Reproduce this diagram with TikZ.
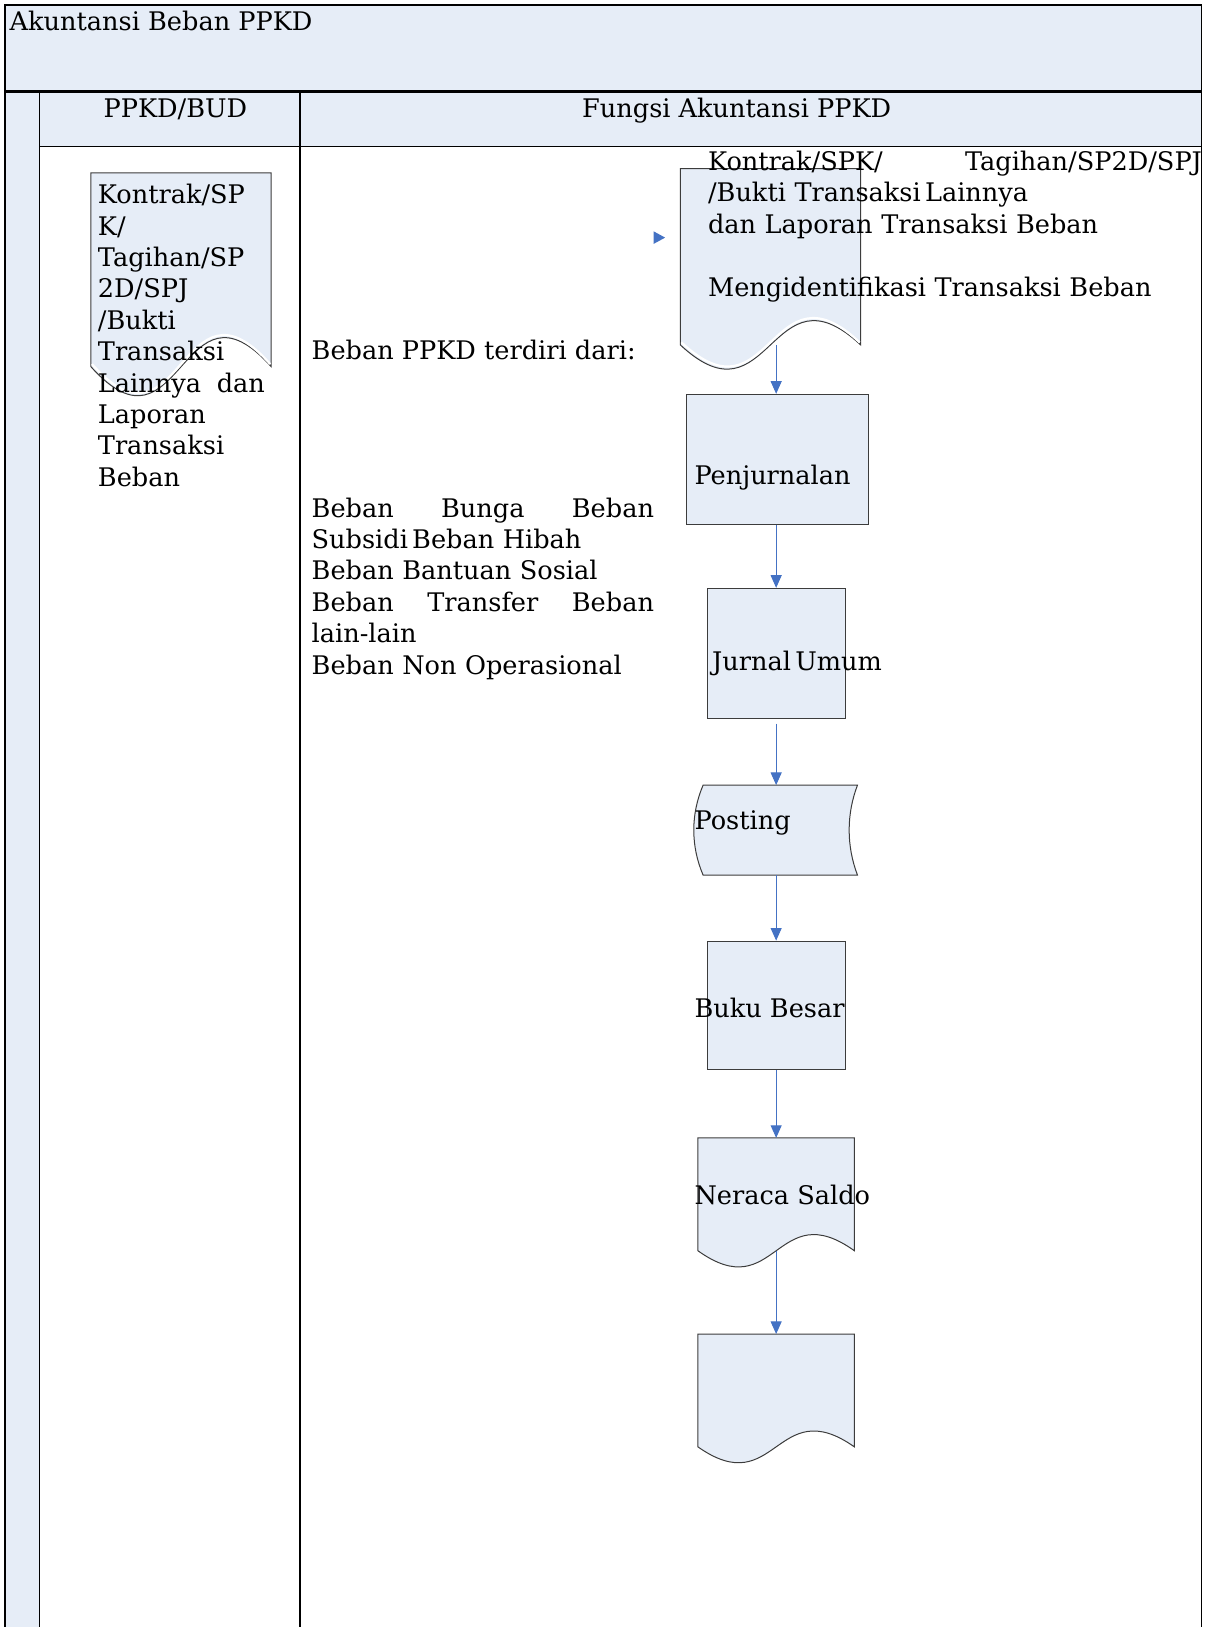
\documentclass[tikz,border=0pt]{standalone}
\usepackage{fontspec}
\setmainfont{DejaVu Serif}
\usetikzlibrary{arrows.meta, calc, positioning}

\definecolor{laneblue}{RGB}{230,237,247}
\definecolor{flowblue}{RGB}{68,114,196}
\definecolor{shapeline}{RGB}{60,60,60}
\newcommand{\flowfont}{\fontsize{12.8pt}{15.7pt}\selectfont}
\newcommand{\pxu}{0.5189pt}

\tikzset{
    lane/.style={draw=black, line width=0.75pt},
    doctext/.style={anchor=north west, inner sep=0pt, align=left, font=\flowfont,
        execute at begin node=\strut},
    headtext/.style={anchor=base, inner sep=0pt, font=\flowfont},
    shapesize/.style 2 args={minimum width=#1*\pxu, minimum height=#2*\pxu},
    procbox/.style={draw=shapeline, fill=laneblue, line width=0.5pt, inner sep=0pt},
    docbox/.style={inner sep=0pt},
    docline/.style={draw=shapeline, fill=laneblue, line width=0.5pt},
    flow/.style={draw=flowblue, line width=0.5pt, -{Triangle[length=6.3pt, width=5.5pt]}}
}

% document symbol with a wavy lower edge
\newcommand{\docshape}[2]{%
    \draw[docline] (#1.north west) -- (#1.north east) -- (#1.south east)
        .. controls ($(#1.south)+(0,-#2)$) and ($(#1.south)+(0,#2)$) .. (#1.south west) -- cycle;}
\newcommand{\docedge}[2]{%
    \draw[white, line width=1.1pt] ($(#1.south east)+(-1,-2.5)$)
        .. controls ($(#1.south)+(0,-#2-2.5)$) and ($(#1.south)+(0,#2-2.5)$) .. ($(#1.south west)+(1,-2.5)$);}

\begin{document}
\begin{tikzpicture}[x=\pxu, y=-\pxu]
    \useasboundingbox (0,0) rectangle (1163,1568);

    % lanes
    \fill[laneblue] (5,5) rectangle (1158,141);
    \fill[laneblue] (5,141) rectangle (38,1568);
    \draw[lane] (5,1568) -- (5,5) -- (1158,5) -- (1158,1568);
    \draw[lane, line width=1.3pt] (5,88) -- (1158,88);
    \draw[lane] (38,141) -- (1158,141);
    \draw[lane] (38,88) -- (38,1568);
    \draw[lane] (289,88) -- (289,1568);

    \node[doctext] (title) at (9, 8) {Akuntansi Beban PPKD};
    \node[headtext] (laneBud) at (169, 113) {PPKD/BUD};
    \node[headtext] (laneAkt) at (710, 113) {Fungsi Akuntansi PPKD};

    % PPKD/BUD
    \node[docbox, shapesize={173}{186}] (budDoc) at (174.5, 260) {};
    \docshape{budDoc}{97}
    \docedge{budDoc}{97}
    \node[doctext, text width=83.5pt] (budText) at (94, 174.8)
        {Kontrak/SP\\K/\\Tagihan/SP\\2D/SPJ\\/Bukti\\Transaksi\\Lainnya\hfill dan\\Laporan\\Transaksi\\Beban};

    % Fungsi Akuntansi PPKD
    \node[doctext] (bebanHead) at (300, 324.8) {Beban PPKD terdiri dari:};
    \node[doctext, text width=171.2pt] (bebanList) at (300, 476.8)
        {Beban\hfill Bunga\hfill Beban\\Subsidi\,Beban Hibah\\Beban Bantuan Sosial\\Beban\hfill Transfer\hfill Beban\\lain-lain\\Beban Non Operasional};

    \node[docbox, shapesize={173}{169}] (kontrakDoc) at (742.5, 247.5) {};
    \node[procbox, shapesize={175}{125}] (penjurnalan) at (749.5, 442.5) {};
    \node[procbox, shapesize={133}{125}] (jurnalUmum) at (748, 629.5) {};
    \node[docbox, shapesize={157}{86}] (posting) at (747.5, 800) {};
    \node[procbox, shapesize={133}{124}] (bukuBesar) at (748, 969) {};
    \node[docbox, shapesize={150}{108}] (neracaSaldo) at (748, 1151) {};
    \node[docbox, shapesize={150}{108}] (laporanDoc) at (748, 1340) {};

    \docshape{kontrakDoc}{81}
    \docedge{kontrakDoc}{81}
    \docshape{neracaSaldo}{54}
    \docshape{laporanDoc}{53}
    \draw[docline] ($(posting.north west)+(9,0)$) -- (posting.north east)
        .. controls ($(posting.north east)+(-10.7,28)$) and ($(posting.south east)+(-10.7,-28)$) .. (posting.south east)
        -- ($(posting.south west)+(9,0)$)
        .. controls ($(posting.south west)+(-3,-28)$) and ($(posting.north west)+(-3,28)$) .. cycle;

    \node[doctext, text width=247pt] (kontrakText) at (682, 142.8)
        {Kontrak/SPK/\hfill Tagihan/SP2D/SPJ\\/Bukti Transaksi\,Lainnya\\dan Laporan Transaksi Beban\\[15.7pt]Mengidentifikasi Transaksi Beban};
    \node[doctext] (penjText) at (669, 445) {Penjurnalan};
    \node[doctext] (jurnalText) at (686, 624.8) {Jurnal\,Umum};
    \node[doctext] (postingText) at (669, 777.8) {Posting};
    \node[doctext] (bukuText) at (669, 958.8) {Buku Besar};
    \node[doctext] (neracaText) at (669, 1138.8) {Neraca Saldo};

    \fill[flowblue] (630,223) -- (641,229) -- (630,235) -- cycle;

    \draw[flow] (kontrakDoc.south -| jurnalUmum.north) -- (jurnalUmum.north |- penjurnalan.north);
    \draw[flow] (penjurnalan.south -| jurnalUmum.north) -- (jurnalUmum.north);
    \draw[flow, shorten <=2.6pt] (jurnalUmum.south) -- (posting.north -| jurnalUmum.south);
    \draw[flow] (posting.south -| bukuBesar.north) -- (bukuBesar.north);
    \draw[flow] (bukuBesar.south) -- (neracaSaldo.north);
    \draw[flow] (neracaSaldo.south) -- (laporanDoc.north);
\end{tikzpicture}
\end{document}
